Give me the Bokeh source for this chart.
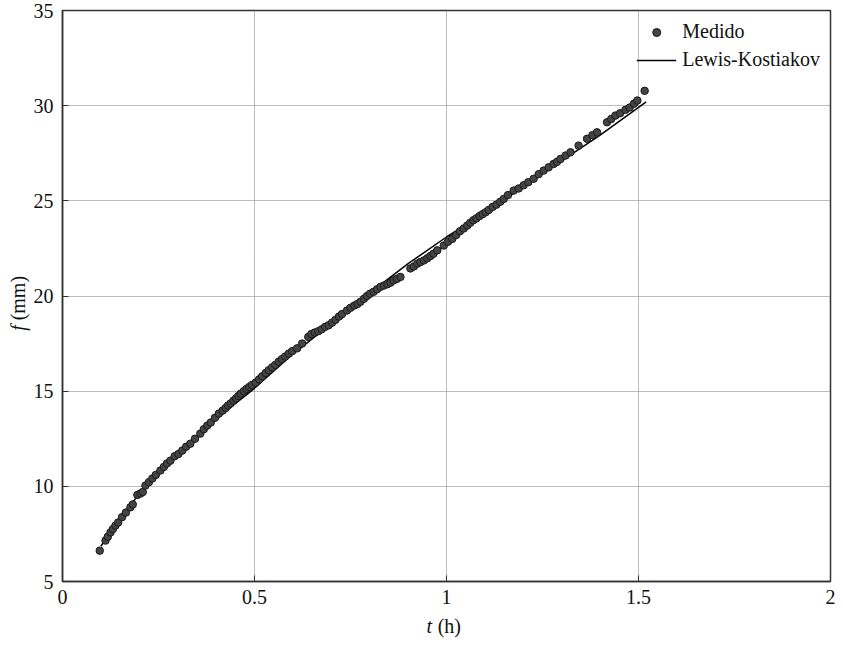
from bokeh.plotting import figure
from bokeh.models import Label, Legend, LegendItem, FixedTicker
from bokeh.embed import file_html
from bokeh.resources import INLINE

# ---- data ----
t_medido = [0.097, 0.112, 0.118, 0.125, 0.131, 0.138, 0.145, 0.155, 0.165, 0.177,
            0.183, 0.195, 0.203, 0.209, 0.216, 0.225, 0.234, 0.243, 0.255, 0.264,
            0.272, 0.281, 0.292, 0.302, 0.312, 0.322, 0.333, 0.345, 0.359, 0.368,
            0.377, 0.386, 0.397, 0.407, 0.417, 0.425, 0.431, 0.4375, 0.445, 0.452,
            0.458, 0.464, 0.472, 0.479, 0.486, 0.493, 0.503, 0.512, 0.520, 0.529,
            0.537, 0.546, 0.554, 0.563, 0.571, 0.580, 0.589, 0.598, 0.611, 0.624,
            0.640, 0.648, 0.657, 0.666, 0.675, 0.684, 0.693, 0.702, 0.711, 0.720,
            0.728, 0.741, 0.750, 0.760, 0.768, 0.776, 0.785, 0.793, 0.801, 0.810,
            0.819, 0.828, 0.837, 0.846, 0.854, 0.862, 0.871, 0.880, 0.906, 0.915,
            0.924, 0.932, 0.941, 0.950, 0.958, 0.966, 0.976, 0.993, 1.004, 1.015,
            1.025, 1.035, 1.045, 1.054, 1.062, 1.070, 1.078, 1.086, 1.094, 1.102,
            1.110, 1.120, 1.130, 1.140, 1.149, 1.160, 1.175, 1.188, 1.201, 1.213,
            1.227, 1.240, 1.253, 1.266, 1.279, 1.288, 1.297, 1.310, 1.323, 1.344,
            1.366, 1.380, 1.392, 1.418, 1.429, 1.440, 1.452, 1.466, 1.477, 1.488,
            1.497, 1.516]
f_medido = [6.62, 7.15, 7.35, 7.58, 7.75, 7.94, 8.10, 8.38, 8.62, 8.90,
            9.05, 9.55, 9.62, 9.70, 10.04, 10.22, 10.41, 10.60, 10.83, 11.02,
            11.20, 11.35, 11.58, 11.70, 11.88, 12.08, 12.24, 12.50, 12.77, 13.00,
            13.19, 13.35, 13.60, 13.82, 13.98, 14.12, 14.25, 14.35, 14.50, 14.62,
            14.75, 14.87, 15.00, 15.12, 15.22, 15.32, 15.45, 15.62, 15.78, 15.95,
            16.10, 16.25, 16.38, 16.55, 16.68, 16.82, 16.97, 17.10, 17.25, 17.50,
            17.85, 18.00, 18.08, 18.15, 18.25, 18.38, 18.46, 18.60, 18.75, 18.92,
            19.05, 19.24, 19.38, 19.50, 19.58, 19.70, 19.85, 20.00, 20.12, 20.22,
            20.35, 20.48, 20.55, 20.62, 20.70, 20.82, 20.90, 21.00, 21.45, 21.55,
            21.70, 21.78, 21.87, 21.98, 22.10, 22.22, 22.40, 22.65, 22.85, 23.00,
            23.20, 23.40, 23.55, 23.70, 23.85, 23.98, 24.08, 24.20, 24.30, 24.40,
            24.52, 24.68, 24.80, 24.95, 25.10, 25.30, 25.54, 25.65, 25.82, 25.98,
            26.16, 26.40, 26.59, 26.76, 26.94, 27.05, 27.20, 27.38, 27.55, 27.90,
            28.26, 28.45, 28.60, 29.13, 29.30, 29.48, 29.60, 29.78, 29.90, 30.10,
            30.27, 30.78]

t_modelo = [0.10, 0.15, 0.20, 0.25, 0.30, 0.35, 0.40, 0.45, 0.50, 0.60,
            0.70, 0.80, 0.90, 1.00, 1.10, 1.20, 1.30, 1.40, 1.52]
f_modelo = [6.85, 8.35, 9.60, 10.72, 11.72, 12.62, 13.50, 14.35, 15.15, 16.95,
            18.55, 20.15, 21.70, 23.10, 24.35, 25.75, 27.10, 28.45, 30.20]

x_ticks = [0, 0.5, 1, 1.5, 2]
x_tick_labels = ["0", "0.5", "1", "1.5", "2"]
y_ticks = [5, 10, 15, 20, 25, 30, 35]

serie_labels = ["Medido", "Lewis-Kostiakov"]

FONT = "Liberation Serif"
FS = "20px"
AX = "#333333"
TXT = "#111111"

p = figure(width=835, height=639, x_range=(0, 2), y_range=(5, 35),
           output_backend="svg", toolbar_location=None,
           min_border_left=62, min_border_right=5, min_border_top=10,
           min_border_bottom=58, background_fill_color="white",
           border_fill_color="white")

p.outline_line_color = AX
p.outline_line_width = 1.5

# axes
for ax in (p.xaxis[0], p.yaxis[0]):
    ax.axis_line_color = AX
    ax.axis_line_width = 1.5
    ax.major_tick_in = 6
    ax.major_tick_out = 0
    ax.minor_tick_in = 0
    ax.minor_tick_out = 0
    ax.major_tick_line_color = AX
    ax.major_label_text_font = FONT
    ax.major_label_text_font_size = FS
    ax.major_label_text_color = TXT
    ax.major_label_standoff = 8

p.xaxis[0].ticker = FixedTicker(ticks=x_ticks)
p.xaxis[0].major_label_overrides = dict(zip(x_ticks, x_tick_labels))
p.yaxis[0].ticker = FixedTicker(ticks=y_ticks)
p.yaxis[0].major_label_standoff = 9

# grid
p.xgrid.ticker = FixedTicker(ticks=x_ticks)
p.ygrid.ticker = FixedTicker(ticks=y_ticks)
p.grid.grid_line_color = "#7a7a7a"
p.grid.grid_line_dash = "1 1"
p.grid.grid_line_width = 1

# data
ln = p.line(t_modelo, f_modelo, line_color="black", line_width=1.5)
sc = p.scatter(t_medido, f_medido, size=7.5, marker="circle",
               fill_color="#444444", line_color="#1a1a1a", line_width=1)

legend = Legend(items=[LegendItem(label=serie_labels[0], renderers=[sc]),
                       LegendItem(label=serie_labels[1], renderers=[ln])],
                location="top_right", border_line_color=None,
                background_fill_alpha=0, label_text_font=FONT,
                label_text_font_size=FS, label_text_color=TXT,
                glyph_width=40, label_height=20, glyph_height=20,
                spacing=5, padding=10, margin=10, label_standoff=6)
p.add_layout(legend)

# axis titles (italic variable + upright unit). They sit in side panels so they
# are not clipped to the frame; data units put them at the right place, and the
# panels are chosen so that the extra room they take stays inside the borders.
p.add_layout(Label(x=0.948, y=2.68, text="t",
                   text_font=FONT, text_font_size=FS, text_font_style="italic",
                   text_baseline="middle", text_align="left", text_color=TXT), "left")
p.add_layout(Label(x=0.977, y=2.68, text="(h)",
                   text_font=FONT, text_font_size=FS, text_baseline="middle",
                   text_align="left", text_color=TXT), "below")
p.add_layout(Label(x=-0.117, y=18.18, text="f",
                   angle=1.5708, text_font=FONT, text_font_size=FS,
                   text_font_style="italic", text_baseline="middle",
                   text_align="left", text_color=TXT), "above")
p.add_layout(Label(x=-0.117, y=18.72, text="(mm)",
                   angle=1.5708, text_font=FONT, text_font_size=FS,
                   text_baseline="middle", text_align="left", text_color=TXT), "left")

open("out.html", "w").write(file_html(p, INLINE))
